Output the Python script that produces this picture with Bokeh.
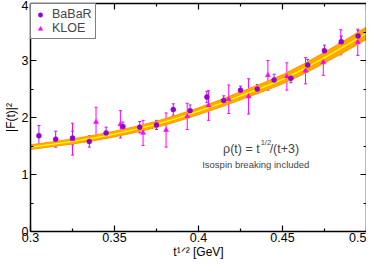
import numpy as np
from bokeh.plotting import figure
from bokeh.models import (ColumnDataSource, Whisker, TeeHead, LinearAxis, Label,
                          FixedTicker, Legend, LegendItem, Range1d)
from bokeh.embed import file_html
from bokeh.resources import INLINE

# ---- data ----
babar_x = [0.305, 0.315, 0.325, 0.335, 0.345, 0.355, 0.365, 0.375, 0.385, 0.395,
           0.405, 0.415, 0.425, 0.435, 0.445, 0.455, 0.465, 0.475, 0.485, 0.495]
babar_y = [1.68, 1.62, 1.64, 1.58, 1.73, 1.84, 1.83, 1.87, 2.14, 2.12,
           2.36, 2.30, 2.48, 2.50, 2.66, 2.69, 2.92, 3.17, 3.33, 3.43]
babar_e = [0.18, 0.14, 0.12, 0.10, 0.10, 0.08, 0.10, 0.08, 0.10, 0.10,
           0.10, 0.08, 0.07, 0.08, 0.10, 0.08, 0.10, 0.10, 0.10, 0.10]

kloe_x = [0.325, 0.339, 0.3535, 0.367, 0.3807, 0.3933, 0.406, 0.418, 0.4298,
          0.4413, 0.4526, 0.4637, 0.4743, 0.4847, 0.4948]
kloe_y = [1.62, 1.92, 1.88, 1.73, 1.78, 2.02, 2.21, 2.32, 2.37,
          2.74, 2.72, 2.82, 2.97, 3.32, 3.32]
kloe_e = [0.28, 0.26, 0.24, 0.22, 0.30, 0.23, 0.26, 0.25, 0.31,
          0.26, 0.24, 0.23, 0.23, 0.22, 0.23]

band_x = [0.3, 0.3125, 0.325, 0.3375, 0.35, 0.3625, 0.375, 0.3875, 0.4,
          0.4125, 0.425, 0.4375, 0.45, 0.4625, 0.475, 0.4875, 0.5]
band_c = [1.48, 1.53, 1.58, 1.64, 1.71, 1.79, 1.88, 1.99, 2.11,
          2.24, 2.38, 2.52, 2.67, 2.85, 3.05, 3.26, 3.48]
band_hw = [0.040, 0.042, 0.045, 0.048, 0.050, 0.052, 0.055, 0.058, 0.060,
           0.065, 0.070, 0.075, 0.080, 0.088, 0.095, 0.102, 0.110]

x_ticks = [0.3, 0.35, 0.4, 0.45, 0.5]
x_minor = [0.325, 0.375, 0.425, 0.475]
y_ticks = [0, 1, 2, 3, 4]
y_minor = [0.5, 1.5, 2.5, 3.5]

FONT = "Liberation Sans"

p = figure(width=366, height=261, output_backend="svg", toolbar_location=None,
           x_range=Range1d(0.3, 0.5), y_range=Range1d(0, 4),
           min_border_left=0, min_border_right=0, min_border_top=3,
           min_border_bottom=0)
p.outline_line_color = None
p.xgrid.visible = False
p.ygrid.visible = False
p.background_fill_color = "white"

# band
bsrc = ColumnDataSource(dict(x=band_x,
                             lo=[c - h for c, h in zip(band_c, band_hw)],
                             hi=[c + h for c, h in zip(band_c, band_hw)],
                             c=band_c,
                             lo2=[c - 0.6 * h for c, h in zip(band_c, band_hw)],
                             hi2=[c + 0.6 * h for c, h in zip(band_c, band_hw)]))
p.varea(x="x", y1="lo", y2="hi", source=bsrc, fill_color="#FFA500")
p.line(x="x", y="lo", source=bsrc, line_color="#FF9900", line_width=1)
p.line(x="x", y="hi", source=bsrc, line_color="#FF9900", line_width=1)
p.line(x="x", y="lo2", source=bsrc, line_color="#FFB000", line_width=0.8)
p.line(x="x", y="hi2", source=bsrc, line_color="#FFB000", line_width=0.8)
p.line(x="x", y="c", source=bsrc, line_color="#FFFF00", line_width=1.3)

# KLOE
ksrc = ColumnDataSource(dict(x=kloe_x, y=kloe_y,
                             lo=[a - b for a, b in zip(kloe_y, kloe_e)],
                             hi=[a + b for a, b in zip(kloe_y, kloe_e)]))
p.add_layout(Whisker(base="x", lower="lo", upper="hi", source=ksrc,
                     line_color="#FF00FF", line_width=1,
                     upper_head=TeeHead(size=3, line_color="#FF00FF", line_width=1),
                     lower_head=TeeHead(size=3, line_color="#FF00FF", line_width=1)))
kr = p.scatter(x="x", y="y", source=ksrc, marker="triangle", size=5,
               fill_color="#FF00FF", line_color="#FF00FF", line_width=0.5)

# BaBaR
bs = ColumnDataSource(dict(x=babar_x, y=babar_y,
                           lo=[a - b for a, b in zip(babar_y, babar_e)],
                           hi=[a + b for a, b in zip(babar_y, babar_e)]))
p.add_layout(Whisker(base="x", lower="lo", upper="hi", source=bs,
                     line_color="#A020F0", line_width=1,
                     upper_head=TeeHead(size=3, line_color="#A020F0", line_width=1),
                     lower_head=TeeHead(size=3, line_color="#A020F0", line_width=1)))
br = p.scatter(x="x", y="y", source=bs, marker="circle", size=5,
               fill_color="#9400D3", line_color="#9400D3", line_width=0.5)

# axes
def style_axis(ax, labels=True):
    ax.axis_line_color = "black"
    ax.axis_line_width = 1.5
    ax.major_tick_in = 6
    ax.major_tick_out = 0
    ax.minor_tick_in = 3
    ax.minor_tick_out = 0
    ax.major_tick_line_color = "black"
    ax.minor_tick_line_color = "black"
    ax.major_tick_line_width = 1.2
    ax.minor_tick_line_width = 1.2
    if labels:
        ax.major_label_text_font = FONT
        ax.major_label_text_font_size = "12.5px"
        ax.major_label_text_color = "black"
        ax.axis_label_text_font = FONT
        ax.axis_label_text_font_size = "12px"
        ax.axis_label_text_font_style = "normal"
        ax.axis_label_text_color = "black"
    else:
        ax.major_label_text_font_size = "0px"
        ax.major_label_standoff = 0
        ax.major_label_text_color = None

p.xaxis.ticker = FixedTicker(ticks=x_ticks, minor_ticks=x_minor)
p.yaxis.ticker = FixedTicker(ticks=y_ticks, minor_ticks=y_minor)
p.xaxis.major_label_overrides = {v: f"{v:g}" for v in x_ticks}
style_axis(p.xaxis[0])
style_axis(p.yaxis[0])
p.xaxis.axis_label = "t\u00b9\u141f\u00b2 [GeV]"
p.yaxis.axis_label = "|F(t)|\u00b2"
p.xaxis.major_label_standoff = 1
p.xaxis.axis_label_standoff = 0
p.yaxis.major_label_standoff = 2
p.yaxis.axis_label_standoff = 1

top = LinearAxis(ticker=FixedTicker(ticks=x_ticks, minor_ticks=x_minor))
right = LinearAxis(ticker=FixedTicker(ticks=y_ticks, minor_ticks=y_minor))
style_axis(top, labels=False)
style_axis(right, labels=False)
p.add_layout(top, "above")
p.add_layout(right, "right")

# annotations inside the frame
p.add_layout(Label(x=0.4364, y=1.45, text="\u03c1(t) = t", text_font=FONT,
                   text_font_size="12.5px", text_baseline="alphabetic", text_align="right"))
p.add_layout(Label(x=0.4364, y=1.45, text="1/2", text_font=FONT, x_offset=1, y_offset=6,
                   text_font_size="7.5px", text_baseline="alphabetic"))
p.add_layout(Label(x=0.4364, y=1.45, text="/(t+3)", text_font=FONT, x_offset=10,
                   text_font_size="12.5px", text_baseline="alphabetic"))
p.add_layout(Label(x=0.4341, y=1.18, text="Isospin breaking included", text_font=FONT,
                   text_font_size="9.5px", text_baseline="middle", text_align="center"))

legend = Legend(items=[LegendItem(label="BaBaR", renderers=[br]),
                       LegendItem(label="KLOE", renderers=[kr])],
                location="top_left")
legend.margin = 0
legend.padding = 3
legend.spacing = 0
legend.glyph_width = 12
legend.glyph_height = 11
legend.label_height = 11
legend.label_standoff = 6
legend.label_text_font = FONT
legend.label_text_font_size = "12.5px"
legend.border_line_color = "black"
legend.border_line_width = 1
legend.background_fill_alpha = 1
p.add_layout(legend)

open("out.html", "w").write(file_html(p, INLINE))
